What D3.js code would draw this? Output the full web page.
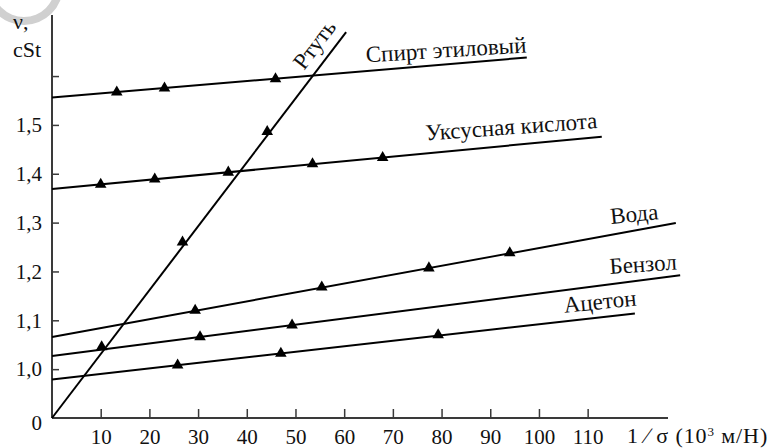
<!DOCTYPE html>
<html>
<head>
<meta charset="utf-8">
<script src="https://cdn.jsdelivr.net/npm/d3@7/dist/d3.min.js"></script>
<style>
  html, body { margin: 0; padding: 0; background: #fff; }
  svg { display: block; }
  svg text { font-family: "Liberation Serif", "Times New Roman", serif; }
</style>
</head>
<body>
<svg id="chart" width="774" height="448"></svg>
<script>
// Kinematic viscosity ν (cSt) against 1/σ (10³ м/Н)
const xTicks = [10, 20, 30, 40, 50, 60, 70, 80, 90, 100, 110];
const yTicks = [1.0, 1.1, 1.2, 1.3, 1.4, 1.5, 1.6];
const yLabelled = [1.0, 1.1, 1.2, 1.3, 1.4, 1.5];

// Fitted lines: [x, ν] at both ends
const ethanolLine = [[0, 1.556], [97.5, 1.638]];
const aceticLine  = [[0, 1.3686], [112.9, 1.476]];
const waterLine   = [[0, 1.066], [128.1, 1.299]];
const benzeneLine = [[0, 1.027], [129.0, 1.192]];
const acetoneLine = [[0, 0.979], [119.7, 1.114]];
const mercuryLine = [[0, 0.9], [60.4, 1.69]];   // starts at the axis origin (break)

// Measured points
const ethanolPts = [[13.3, 1.567], [23.1, 1.575], [45.9, 1.594]];
const aceticPts  = [[10.0, 1.378], [21.1, 1.389], [36.2, 1.403], [53.5, 1.420], [67.9, 1.433]];
const waterPts   = [[29.4, 1.120], [55.4, 1.168], [77.4, 1.207], [94.0, 1.238]];
const benzenePts = [[30.4, 1.066], [49.3, 1.090]];
const acetonePts = [[25.8, 1.008], [47.0, 1.032], [79.3, 1.070]];
const mercuryPts = [[10.2, 1.0455], [26.8, 1.260], [44.2, 1.486]];

const names = ["Спирт этиловый", "Уксусная кислота", "Вода", "Бензол", "Ацетон", "Ртуть"];

const series = [
  { name: names[0], line: ethanolLine, pts: ethanolPts, lab: { dx: 0,  dy: -5,  rot: -3.5 } },
  { name: names[1], line: aceticLine,  pts: aceticPts,  lab: { dx: -4, dy: -8.5, rot: -4.1 } },
  { name: names[2], line: waterLine,   pts: waterPts,   lab: { dx: -17, dy: -4, rot: -5.8 } },
  { name: names[3], line: benzeneLine, pts: benzenePts, lab: { dx: -3, dy: -6,  rot: -4 } },
  { name: names[4], line: acetoneLine, pts: acetonePts, lab: { dx: 2,  dy: -8,  rot: -5.8 } },
  { name: names[5], line: mercuryLine, pts: mercuryPts, lab: null }
];

const FONT = "Liberation Serif";
const svg = d3.select("#chart");

const x = d3.scaleLinear().domain([0, 126.5]).range([52, 668]);
const y = d3.scaleLinear().domain([0.9, 1.725]).range([418, 15]);

const axisColor = "#3a3a3a";
const tickFont = 21;
const labelFont = 23;

// decorative ring in the upper-left corner
svg.append("path")
  .attr("transform", "translate(24,-14)")
  .attr("d", d3.arc()({ innerRadius: 31, outerRadius: 39, startAngle: 0, endAngle: 2 * Math.PI }))
  .attr("fill", "#d0d0d0");

// x axis
const gx = svg.append("g")
  .attr("transform", `translate(0,${y.range()[0]})`)
  .call(d3.axisBottom(x).tickValues(xTicks).tickSize(-9).tickPadding(11).tickFormat(d3.format("d")))
  .attr("font-family", FONT).attr("font-size", tickFont);
gx.select(".domain").attr("stroke", axisColor).attr("stroke-width", 2)
  .attr("d", `M${x.range()[0]},0H${x.range()[1]}`);
gx.selectAll(".tick line").attr("stroke", axisColor).attr("stroke-width", 1.5);
gx.selectAll(".tick text").attr("fill", "#111");

// y axis
const commaFmt = v => d3.format(".1f")(v).replace(".", ",");
const gy = svg.append("g")
  .attr("transform", `translate(${x.range()[0]},0)`)
  .call(d3.axisLeft(y).tickValues(yTicks).tickSize(-7).tickPadding(10)
    .tickFormat(v => yLabelled.includes(v) ? commaFmt(v) : ""))
  .attr("font-family", FONT).attr("font-size", tickFont);
gy.select(".domain").attr("stroke", axisColor).attr("stroke-width", 2)
  .attr("d", `M0,${y.range()[0]}V${y.range()[1]}`);
gy.selectAll(".tick line").attr("stroke", axisColor).attr("stroke-width", 1.5);
gy.selectAll(".tick text").attr("fill", "#111");

const txt = () => svg.append("text").attr("font-family", FONT).attr("fill", "#111");

// origin label
txt().attr("x", x.range()[0] - 10).attr("y", y.range()[0] + 12)
  .attr("text-anchor", "end").attr("font-size", tickFont).text("0");

// axis titles
txt().attr("x", 13).attr("y", 29).attr("font-size", 22).text("ν,");
txt().attr("x", 13).attr("y", 57).attr("font-size", 22).text("cSt");

const xt = txt().attr("x", 627).attr("y", y.range()[0] + 25)
  .attr("font-size", 22).attr("letter-spacing", 0.9);
xt.append("tspan").text("1 ∕ ");
xt.append("tspan").text("σ");
xt.append("tspan").text(" (10");
xt.append("tspan").attr("dy", -7).attr("font-size", 13).text("3");
xt.append("tspan").attr("dy", 7).text(" м/Н)");

// lines
const lineGen = d3.line().x(d => x(d[0])).y(d => y(d[1]));
svg.append("g").selectAll("path").data(series).join("path")
  .attr("d", s => lineGen(s.line))
  .attr("fill", "none").attr("stroke", "#000").attr("stroke-width", 2);

// markers
const tri = d3.symbol().type(d3.symbolTriangle).size(58);
series.forEach(s => {
  svg.append("g").selectAll("path").data(s.pts).join("path")
    .attr("transform", d => `translate(${x(d[0])},${y(d[1])})`)
    .attr("d", tri).attr("fill", "#000");
});

// series labels near the right end of each line
series.filter(s => s.lab).forEach(s => {
  const end = s.line[s.line.length - 1];
  const px = x(end[0]) + s.lab.dx, py = y(end[1]) + s.lab.dy;
  txt().attr("transform", `translate(${px},${py}) rotate(${s.lab.rot})`)
    .attr("text-anchor", "end").attr("font-size", labelFont)
    .text(s.name);
});

// mercury label runs along its steep line
{
  const s = series[5];
  const a = s.line[0], b = s.line[1];
  const ang = Math.atan2(y(b[1]) - y(a[1]), x(b[0]) - x(a[0])) * 180 / Math.PI;
  const t = 0.94;
  const px = x(a[0] + (b[0] - a[0]) * t), py = y(a[1] + (b[1] - a[1]) * t);
  txt().attr("transform", `translate(${px},${py}) rotate(${ang}) translate(0,-10)`)
    .attr("text-anchor", "middle").attr("font-size", labelFont)
    .text(s.name);
}
</script>
</body>
</html>
